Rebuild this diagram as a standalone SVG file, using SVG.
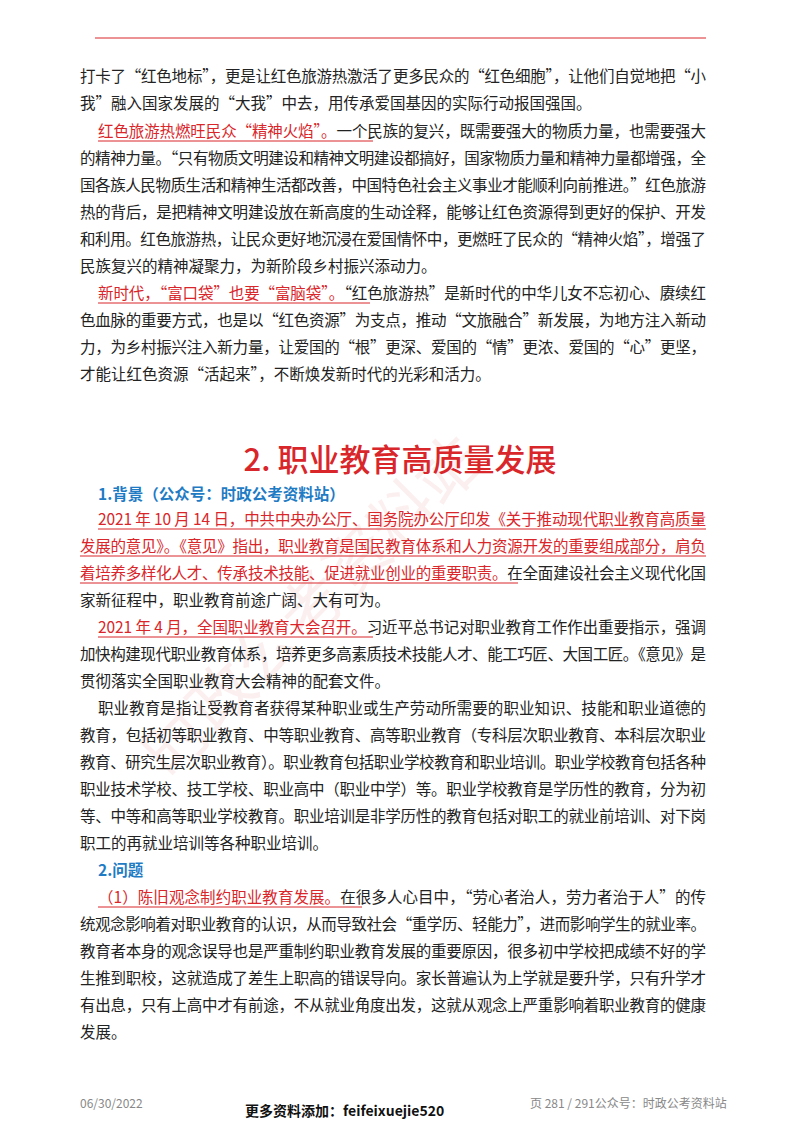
<svg xmlns="http://www.w3.org/2000/svg" width="800" height="1132" viewBox="0 0 800 1132">
<style>
text{font-family:"Noto Sans CJK SC","Noto Sans",sans-serif;font-size:15.5px;fill:#222}
.r{fill:#d9262a}
.b{fill:#1e7bc4;font-weight:bold}
.u{stroke:#d9262a;stroke-width:1}
.g{fill:#888;font-size:12px}
</style>
<rect width="800" height="1132" fill="#fff"/>
<text x="170" y="780" transform="rotate(-45 170 780)" style="font-size:64px;fill:#fcefef">时政公考资料站</text>
<line x1="95" y1="38" x2="706" y2="38" stroke="#d9262a" stroke-width="1"/>
<g id="body">
<text x="80" y="82" textLength="626">打卡了“红色地标”，更是让红色旅游热激活了更多民众的“红色细胞”，让他们自觉地把“小</text>
<text x="80" y="109">我”融入国家发展的“大我”中去，用传承爱国基因的实际行动报国强国。</text>
<text x="98" y="137" textLength="608"><tspan class="r">红色旅游热燃旺民众“精神火焰”。</tspan>一个民族的复兴，既需要强大的物质力量，也需要强大</text>
<text x="80" y="164" textLength="626">的精神力量。“只有物质文明建设和精神文明建设都搞好，国家物质力量和精神力量都增强，全</text>
<text x="80" y="191" textLength="626">国各族人民物质生活和精神生活都改善，中国特色社会主义事业才能顺利向前推进。”红色旅游</text>
<text x="80" y="218" textLength="626">热的背后，是把精神文明建设放在新高度的生动诠释，能够让红色资源得到更好的保护、开发</text>
<text x="80" y="245" textLength="626">和利用。红色旅游热，让民众更好地沉浸在爱国情怀中，更燃旺了民众的“精神火焰”，增强了</text>
<text x="80" y="272">民族复兴的精神凝聚力，为新阶段乡村振兴添动力。</text>
<text x="98" y="299" textLength="608"><tspan class="r">新时代，“富口袋”也要“富脑袋”。</tspan>“红色旅游热”是新时代的中华儿女不忘初心、赓续红</text>
<text x="80" y="326" textLength="626">色血脉的重要方式，也是以“红色资源”为支点，推动“文旅融合”新发展，为地方注入新动</text>
<text x="80" y="353" textLength="626">力，为乡村振兴注入新力量，让爱国的“根”更深、爱国的“情”更浓、爱国的“心”更坚，</text>
<text x="80" y="380">才能让红色资源“活起来”，不断焕发新时代的光彩和活力。</text>
<text x="400" y="471" text-anchor="middle" class="r" style="font-size:31px;font-weight:500">2. 职业教育高质量发展</text>
<text x="98" y="500" class="b">1.背景（公众号：时政公考资料站）</text>
<text x="98" y="525" textLength="608" class="r">2021 年 10 月 14 日，中共中央办公厅、国务院办公厅印发《关于推动现代职业教育高质量</text>
<text x="80" y="552" textLength="626" class="r">发展的意见》。《意见》指出，职业教育是国民教育体系和人力资源开发的重要组成部分，肩负</text>
<text x="80" y="579" textLength="626"><tspan class="r">着培养多样化人才、传承技术技能、促进就业创业的重要职责。</tspan>在全面建设社会主义现代化国</text>
<text x="80" y="606">家新征程中，职业教育前途广阔、大有可为。</text>
<text x="98" y="633" textLength="608"><tspan class="r">2021 年 4 月，全国职业教育大会召开。</tspan>习近平总书记对职业教育工作作出重要指示，强调</text>
<text x="80" y="660" textLength="626">加快构建现代职业教育体系，培养更多高素质技术技能人才、能工巧匠、大国工匠。《意见》是</text>
<text x="80" y="687">贯彻落实全国职业教育大会精神的配套文件。</text>
<text x="98" y="714" textLength="608">职业教育是指让受教育者获得某种职业或生产劳动所需要的职业知识、技能和职业道德的</text>
<text x="80" y="741" textLength="626">教育，包括初等职业教育、中等职业教育、高等职业教育（专科层次职业教育、本科层次职业</text>
<text x="80" y="768" textLength="626">教育、研究生层次职业教育）。职业教育包括职业学校教育和职业培训。职业学校教育包括各种</text>
<text x="80" y="795" textLength="626">职业技术学校、技工学校、职业高中（职业中学）等。职业学校教育是学历性的教育，分为初</text>
<text x="80" y="822" textLength="626">等、中等和高等职业学校教育。职业培训是非学历性的教育包括对职工的就业前培训、对下岗</text>
<text x="80" y="849">职工的再就业培训等各种职业培训。</text>
<text x="98" y="876" class="b">2.问题</text>
<text x="98" y="903" textLength="608"><tspan class="r">（1）陈旧观念制约职业教育发展。</tspan>在很多人心目中，“劳心者治人，劳力者治于人”的传</text>
<text x="80" y="930" textLength="626">统观念影响着对职业教育的认识，从而导致社会“重学历、轻能力”，进而影响学生的就业率。</text>
<text x="80" y="957" textLength="626">教育者本身的观念误导也是严重制约职业教育发展的重要原因，很多初中学校把成绩不好的学</text>
<text x="80" y="984" textLength="626">生推到职校，这就造成了差生上职高的错误导向。家长普遍认为上学就是要升学，只有升学才</text>
<text x="80" y="1011" textLength="626">有出息，只有上高中才有前途，不从就业角度出发，这就从观念上严重影响着职业教育的健康</text>
<text x="80" y="1038">发展。</text>
</g>
<g id="underlines">
<line class="u" x1="98" y1="141" x2="373" y2="141"/>
<line class="u" x1="98" y1="303" x2="370" y2="303"/>
<line class="u" x1="98" y1="529" x2="706" y2="529"/>
<line class="u" x1="80" y1="556" x2="706" y2="556"/>
<line class="u" x1="80" y1="583" x2="518" y2="583"/>
<line class="u" x1="98" y1="637" x2="373" y2="637"/>
<line class="u" x1="98" y1="907" x2="362" y2="907"/>
</g>
<text x="80" y="1108" class="g">06/30/2022</text>
<text x="245" y="1116" style="font-size:14px;font-weight:bold;fill:#111">更多资料添加：feifeixuejie520</text>
<text x="530" y="1108" class="g">页 281 / 291公众号：时政公考资料站</text>
</svg>
